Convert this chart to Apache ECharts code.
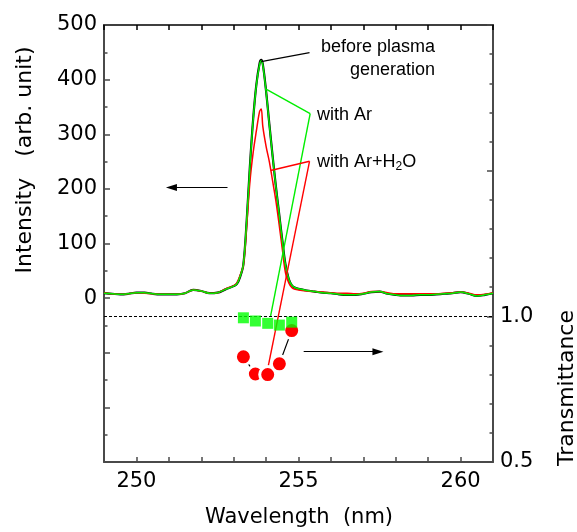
<!DOCTYPE html>
<html><head><meta charset="utf-8">
<script src="https://cdn.jsdelivr.net/npm/echarts@6/dist/echarts.min.js"></script>
<style>html,body{margin:0;padding:0;background:#fff}#c{width:577px;height:532px}</style>
</head><body><div id="c"></div>
<script>
// ---- data ----
const wavelength = [249.0, 249.25, 249.5, 249.75, 250.0, 250.25, 250.5, 250.75, 251.0, 251.25, 251.5, 251.75, 252.0, 252.25, 252.5, 252.75, 253.0,
  253.1, 253.2, 253.3, 253.4, 253.5, 253.6, 253.7, 253.8, 253.85, 253.9, 254.0, 254.1, 254.2, 254.3, 254.4, 254.5, 254.6, 254.7, 254.8, 254.9, 255.0,
  255.25, 255.5, 255.75, 256.0, 256.25, 256.5, 256.75, 257.0, 257.25, 257.5, 257.75, 258.0, 258.25, 258.5, 258.75, 259.0, 259.25, 259.5, 259.75,
  260.0, 260.25, 260.5, 260.75, 261.0];
const beforePlasma = [9, 8, 7, 8, 10, 10, 8, 7, 7, 7, 9, 15, 13, 9, 10, 16, 22,
  26, 39, 62, 140, 241, 327, 391, 430, 436, 428, 379, 319, 261, 206, 156, 106, 61, 35, 23, 19, 17,
  14, 12, 10, 9, 7, 6, 6, 8, 11, 12, 8, 6, 5, 5, 6, 6, 7, 8, 9,
  11, 8, 4, 6, 9];
const withAr = [9, 8, 7, 8, 10, 10, 8, 7, 7, 7, 9, 15, 13, 9, 10, 16, 22,
  26, 40, 62, 140, 240, 326, 390, 428, 434, 426, 378, 318, 260, 205, 155, 105, 60, 35, 23, 19, 17,
  14, 12, 10, 9, 7, 6, 6, 8, 11, 12, 8, 6, 5, 5, 6, 6, 7, 8, 9,
  11, 8, 4, 6, 9];
const withArH2O = [10, 8, 7, 8, 10, 9, 8, 7, 7, 7, 9, 15, 13, 9, 10, 17, 23,
  28, 42, 60, 130, 212, 266, 306, 342, 346, 314, 278, 250, 215, 179, 136, 90, 46, 28, 19, 16, 15,
  13, 12, 11, 10, 9, 9, 8, 9, 12, 12, 10, 8, 8, 8, 8, 8, 8, 9, 10,
  11, 9, 6, 7, 10];
const transWavelength = [253.3, 253.67, 254.05, 254.41, 254.79];
const transAr = [0.995, 0.984, 0.976, 0.970, 0.980];
const transArH2O = [0.861, 0.802, 0.800, 0.837, 0.951];
const xTickLabels = [250, 255, 260];
const intensityTickLabels = [0, 100, 200, 300, 400, 500];
const transTickLabels = ['0.5', '1.0'];

// ---- chart ----
const chart = echarts.init(document.getElementById('c'), null, {renderer: 'canvas'});
const axisColor = '#4a4a4a';
const tickFont = 'DejaVu Sans';
const textFont = 'Liberation Sans';
const pairs = (xs, ys) => xs.map((x, i) => [x, ys[i]]);
const near = (a, b) => Math.abs(a - b) < 1e-6;

const tickStyle = {inside: true, length: 6, lineStyle: {color: axisColor, width: 1.5}};
const minorStyle = {show: true, length: 3.5, lineStyle: {color: axisColor, width: 1.5}};

const option = {
  animation: false,
  grid: {left: 104, right: 84, top: 25, bottom: 70, containLabel: false},
  xAxis: [{
    type: 'value', min: 249, max: 261, interval: 1, position: 'bottom',
    axisLine: {onZero: false, lineStyle: {color: axisColor, width: 2}},
    axisTick: {inside: true, length: 5, lineStyle: {color: axisColor, width: 1.5}},
    axisLabel: {
      formatter: v => xTickLabels.some(t => near(t, v)) ? String(Math.round(v)) : '',
      fontFamily: tickFont, fontSize: 21, color: '#000', margin: 9
    },
    splitLine: {show: false}
  }, {
    type: 'value', min: 249, max: 261, interval: 1, position: 'top',
    axisLine: {onZero: false, lineStyle: {color: '#000', width: 1.5}},
    axisTick: {inside: true, length: 5, lineStyle: {color: '#000', width: 1.5}},
    axisLabel: {show: false}, splitLine: {show: false}
  }],
  yAxis: [{
    type: 'value', min: -300, max: 500, interval: 100, position: 'left',
    axisLine: {onZero: false, lineStyle: {color: axisColor, width: 2}},
    axisTick: tickStyle,
    minorTick: Object.assign({splitNumber: 2}, minorStyle),
    axisLabel: {
      formatter: v => intensityTickLabels.some(t => near(t, v)) ? String(Math.round(v)) : '',
      fontFamily: tickFont, fontSize: 21, color: '#000', margin: 7
    },
    splitLine: {show: false}
  }, {
    type: 'value', min: 0.5, max: 2.0, interval: 0.5, position: 'right',
    axisLine: {onZero: false, lineStyle: {color: axisColor, width: 2}},
    axisTick: tickStyle,
    minorTick: Object.assign({splitNumber: 5}, minorStyle),
    axisLabel: {
      formatter: v => { const s = v.toFixed(1); return transTickLabels.includes(s) ? s : ''; },
      fontFamily: tickFont, fontSize: 21, color: '#000', margin: 7
    },
    splitLine: {show: false}
  }],
  series: [
    {
      name: 'before plasma generation', type: 'line', data: pairs(wavelength, beforePlasma),
      smooth: 0.35, showSymbol: false, lineStyle: {color: '#000', width: 2.2}, itemStyle: {color: '#000'}, z: 2,
      markLine: {
        silent: true, symbol: ['none', 'none'], label: {show: false},
        lineStyle: {type: 'solid', width: 1.2},
        data: [
          [{coord: [253.85, 433], lineStyle: {color: '#000', width: 1.2}}, {coord: [255.34, 449.5]}],
          [{coord: [254.0, 382.7], lineStyle: {color: '#00ee00', width: 1.4}}, {coord: [255.36, 337.6]}],
          [{coord: [255.36, 337.6], lineStyle: {color: '#00ee00', width: 1.4}}, {coord: [254.14, -32.3]}],
          [{coord: [254.14, 233.6], lineStyle: {color: '#ff0000', width: 1.4}}, {coord: [255.34, 250.5]}],
          [{coord: [255.34, 250.5], lineStyle: {color: '#ff0000', width: 1.4}}, {coord: [254.05, -129.6]}],
          [{coord: [252.81, 202.6], symbol: 'none', lineStyle: {color: '#000', width: 1.2}}, {coord: [251.08, 202.6], symbol: 'triangle', symbolSize: [7, 11]}],
          [{coord: [255.16, -98], symbol: 'none', lineStyle: {color: '#000', width: 1.2}}, {coord: [257.45, -98], symbol: 'triangle', symbolSize: [7, 11]}]
        ]
      }
    },
    {
      name: 'with Ar+H2O', type: 'line', data: pairs(wavelength, withArH2O),
      smooth: 0.35, showSymbol: false, lineStyle: {color: '#ff0000', width: 1.5}, itemStyle: {color: '#ff0000'}, z: 3
    },
    {
      name: 'with Ar', type: 'line', data: pairs(wavelength, withAr),
      smooth: 0.35, showSymbol: false, lineStyle: {color: '#00ee00', width: 1.5}, itemStyle: {color: '#00ee00'}, z: 4
    },
    {
      name: 'Transmittance Ar+H2O', type: 'line', xAxisIndex: 0, yAxisIndex: 1, data: pairs(transWavelength, transArH2O),
      symbol: 'circle', symbolSize: 16, showSymbol: true,
      lineStyle: {color: '#000', width: 1.2},
      itemStyle: {color: '#ff0000', borderColor: '#fff', borderWidth: 3}, z: 5
    },
    {
      name: 'Transmittance Ar', type: 'scatter', xAxisIndex: 0, yAxisIndex: 1, data: pairs(transWavelength, transAr),
      symbol: 'rect', symbolSize: 11, itemStyle: {color: '#00ff00'}, z: 6,
      markLine: {
        silent: true, symbol: ['none', 'none'], label: {show: false},
        lineStyle: {color: '#000', width: 1, type: [3, 2]},
        data: [{yAxis: 1.0}]
      }
    }
  ],
  graphic: [
    {type: 'text', x: 435, y: 47, style: {text: 'before plasma', font: '18px "' + textFont + '"', fill: '#000', align: 'right', verticalAlign: 'middle'}},
    {type: 'text', x: 435, y: 70, style: {text: 'generation', font: '18px "' + textFont + '"', fill: '#000', align: 'right', verticalAlign: 'middle'}},
    {type: 'text', x: 317, y: 115, style: {text: 'with Ar', font: '18px "' + textFont + '"', fill: '#000', align: 'left', verticalAlign: 'middle'}},
    {type: 'text', x: 317, y: 162, style: {
      text: 'with Ar+H{sub|2}O', font: '18px "' + textFont + '"', fill: '#000', align: 'left', verticalAlign: 'middle',
      rich: {sub: {fontSize: 12, fontFamily: textFont, verticalAlign: 'bottom', padding: [9, 0, 0, 0]}}
    }},
    {type: 'text', x: 299, y: 518, style: {text: 'Wavelength  (nm)', font: '21px "' + tickFont + '"', fill: '#000', align: 'center', verticalAlign: 'middle'}},
    {type: 'text', x: 25, y: 160, rotation: Math.PI / 2, style: {text: 'Intensity   (arb. unit)', font: '22px "' + tickFont + '"', fill: '#000', align: 'center', verticalAlign: 'middle'}},
    {type: 'text', x: 567, y: 388, rotation: Math.PI / 2, style: {text: 'Transmittance', font: '22px "' + tickFont + '"', fill: '#000', align: 'center', verticalAlign: 'middle'}}
  ]
};
chart.setOption(option);
</script>
</body></html>
